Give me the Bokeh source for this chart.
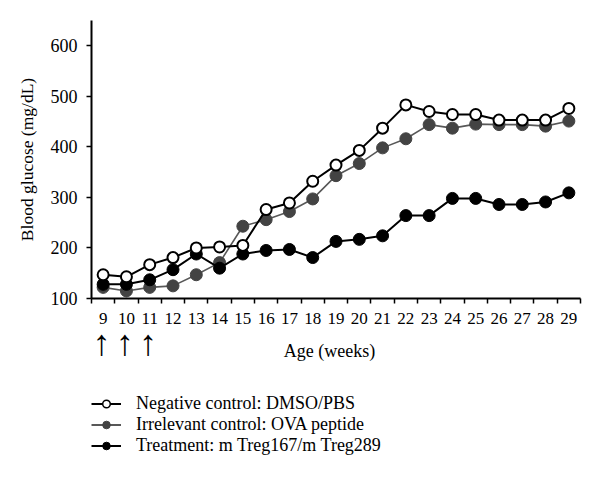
from bokeh.plotting import figure
from bokeh.layouts import column
from bokeh.models import (FixedTicker, Legend, LegendItem, Label,
                          ColumnDataSource, Range1d)
from bokeh.embed import file_html
from bokeh.resources import INLINE

weeks = list(range(9, 30))
negative = [147, 143, 167, 181, 200, 202, 205, 276, 289, 332, 364, 393, 437,
            483, 470, 464, 464, 453, 453, 453, 476]
irrelevant = [122, 115, 122, 125, 147, 171, 243, 256, 272, 297, 343, 367, 398,
              416, 444, 437, 445, 444, 444, 441, 451]
treatment = [128, 128, 137, 157, 188, 160, 188, 195, 197, 181, 213, 217, 224,
             264, 264, 298, 298, 286, 286, 291, 309]
y_ticks = [100, 200, 300, 400, 500, 600]
injection_weeks = [9, 10, 11]
series_names = ["Negative control: DMSO/PBS",
                "Irrelevant control: OVA peptide",
                "Treatment: m Treg167/m Treg289"]
x_title = "Age (weeks)"
y_title = "Blood glucose (mg/dL)"

FONT = "Liberation Serif"
W = 592
H1 = 328
H2 = 146

GRAY_LINE = "#585858"
GRAY_FILL = "#434343"

xr = Range1d(weeks[0] - 0.5, weeks[-1] + 0.5)
p = figure(width=W, height=H1, x_range=xr, y_range=Range1d(100, 650),
           output_backend="svg", toolbar_location=None,
           min_border_left=91, min_border_top=20, min_border_right=12,
           min_border_bottom=30)
p.grid.visible = False
p.outline_line_color = None

# series
src = ColumnDataSource(dict(x=weeks, neg=negative, irr=irrelevant, trt=treatment))
p.line("x", "irr", source=src, line_color=GRAY_LINE, line_width=1.6)
p.scatter("x", "irr", source=src, size=12, fill_color=GRAY_FILL, line_color=GRAY_FILL)
p.line("x", "trt", source=src, line_color="black", line_width=2)
p.scatter("x", "trt", source=src, size=12, fill_color="black", line_color="black")
p.line("x", "neg", source=src, line_color="black", line_width=2)
p.scatter("x", "neg", source=src, size=11, fill_color="white", line_color="black", line_width=2)

# axes
xa = p.xaxis[0]
xa.ticker = FixedTicker(ticks=weeks, minor_ticks=[w - 0.5 for w in weeks] + [weeks[-1] + 0.5])
xa.major_tick_in = 0
xa.major_tick_out = 0
xa.minor_tick_in = 0
xa.minor_tick_out = 5
xa.minor_tick_line_color = "black"
xa.minor_tick_line_width = 1.5
xa.axis_line_color = "black"
xa.axis_line_width = 2
xa.major_label_text_font = FONT
xa.major_label_text_font_size = "17px"
xa.major_label_text_color = "black"
xa.major_label_standoff = 9

ya = p.yaxis[0]
ya.ticker = FixedTicker(ticks=y_ticks, minor_ticks=[])
ya.major_tick_in = 0
ya.major_tick_out = 5
ya.major_tick_line_color = "black"
ya.major_tick_line_width = 1.5
ya.axis_line_color = "black"
ya.axis_line_width = 2
ya.major_label_text_font = FONT
ya.major_label_text_font_size = "18px"
ya.major_label_text_color = "black"
ya.major_label_standoff = 9
ya.axis_label = y_title
ya.axis_label_text_font = FONT
ya.axis_label_text_font_style = "normal"
ya.axis_label_text_font_size = "17.5px"
ya.axis_label_text_color = "black"
ya.axis_label_standoff = 11

# lower panel: injection arrows, x title, legend (shares the x scale)
p2 = figure(width=W, height=H2, x_range=xr, y_range=Range1d(H2, 0),
            output_backend="svg", toolbar_location=None,
            x_axis_type=None, y_axis_type=None,
            min_border_left=91, min_border_top=0, min_border_right=12,
            min_border_bottom=0)
p2.grid.visible = False
p2.outline_line_color = None

arr = ColumnDataSource(dict(x=[w - 0.06 for w in injection_weeks],
                            y=[14] * len(injection_weeks),
                            t=["\u2191"] * len(injection_weeks)))
p2.text("x", "y", text="t", source=arr, text_align="center",
        text_baseline="middle", text_font={"value": FONT},
        text_font_size="36px", text_color="black")

p2.add_layout(Label(x=18.72, y=22, text=x_title, text_align="center",
                    text_baseline="middle", text_font=FONT,
                    text_font_size="18px", text_color="black"))

# legend glyphs (no visible data in this panel)
nan = float("nan")
ph = ColumnDataSource(dict(x=[nan], y=[nan]))
l1 = p2.line("x", "y", source=ph, line_color="black", line_width=2)
m1 = p2.scatter("x", "y", source=ph, size=8, fill_color="white", line_color="black", line_width=1.5)
l2 = p2.line("x", "y", source=ph, line_color=GRAY_LINE, line_width=2)
m2 = p2.scatter("x", "y", source=ph, size=8, fill_color=GRAY_FILL, line_color=GRAY_FILL)
l3 = p2.line("x", "y", source=ph, line_color="black", line_width=2)
m3 = p2.scatter("x", "y", source=ph, size=8, fill_color="black", line_color="black")

legend = Legend(items=[LegendItem(label=series_names[0], renderers=[l1, m1]),
                       LegendItem(label=series_names[1], renderers=[l2, m2]),
                       LegendItem(label=series_names[2], renderers=[l3, m3])],
                location=(0, 18), border_line_color=None,
                background_fill_alpha=0, label_text_font=FONT,
                label_text_font_size="18px", label_text_color="black",
                label_text_line_height=1.0,
                glyph_width=30, glyph_height=19,
                label_height=19, spacing=0, padding=0, margin=0,
                label_standoff=15)
p2.add_layout(legend)

layout = column(p, p2, spacing=0)
open("out.html", "w").write(file_html(layout, INLINE))
